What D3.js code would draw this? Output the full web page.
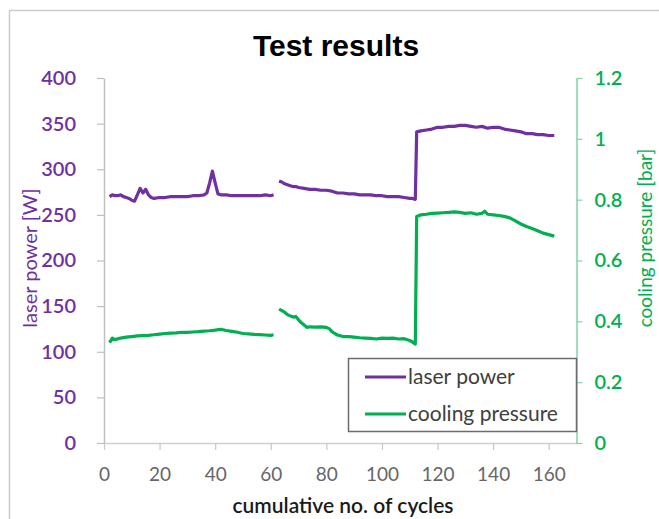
<!DOCTYPE html>
<html>
<head>
<meta charset="utf-8">
<script src="https://cdn.jsdelivr.net/npm/d3@7"></script>
<style>
  html, body { margin: 0; padding: 0; background: #fff; }
  svg { display: block; }
</style>
</head>
<body>
<svg id="chart" width="659" height="519"></svg>
<script>
// Laser power [W] per cycle; null marks the pause between runs
const powerCycles = [2,3,4,5,6,7,8,9,10,11,12,13,14,15,16,17,18,20,22,24,26,28,30,32,34,36,37,38,39,40,41,42,44,46,48,50,52,54,56,58,60,61,
  62,
  63,64,65,66,67,68,69,70,72,74,76,78,80,82,84,86,88,90,92,94,96,98,100,102,104,106,108,110,111,112,
  112.5,114,116,118,120,122,124,126,128,130,132,134,136,138,140,142,144,146,148,150,152,154,156,158,160,162];
const powerValues = [270,272,271,271,272,270,269,268,266,265,272,279,274,278,272,269,268,269,269,270,270,270,270,271,271,272,274,285,298,285,273,272,272,271,271,271,271,271,271,272,271,272,
  null,
  287,286,284,283,282,281,281,280,279,278,278,277,277,276,274,274,273,273,272,272,272,271,271,270,270,270,269,268,268,267,
  341,342,343,344,346,346,347,347,348,348,347,346,347,345,346,346,344,343,342,341,339,339,338,338,337,337];

// Cooling pressure [bar] per cycle
const pressureCycles = [2,3,4,6,8,10,12,14,16,18,20,22,24,26,28,30,32,34,36,38,40,42,44,46,48,50,52,54,56,58,60,61,
  62,
  63,64,65,66,67,68,69,70,71,72,73,74,76,78,80,81,82,83,84,86,88,90,92,94,96,98,100,102,104,106,108,110,111,112,
  112.5,114,116,118,120,122,124,126,128,130,132,134,136,137,138,140,142,144,146,148,150,152,154,156,158,160,162];
const pressureValues = [0.33,0.345,0.34,0.345,0.348,0.35,0.352,0.353,0.354,0.356,0.358,0.36,0.361,0.362,0.364,0.364,0.365,0.366,0.368,0.369,0.371,0.374,0.37,0.367,0.364,0.36,0.359,0.357,0.356,0.355,0.354,0.356,
  null,
  0.44,0.435,0.43,0.422,0.418,0.414,0.416,0.405,0.395,0.388,0.38,0.382,0.381,0.382,0.38,0.376,0.366,0.36,0.355,0.35,0.35,0.348,0.346,0.345,0.344,0.342,0.345,0.344,0.345,0.342,0.343,0.337,0.332,0.325,
  0.745,0.75,0.752,0.755,0.756,0.757,0.758,0.76,0.758,0.755,0.757,0.752,0.755,0.762,0.752,0.75,0.748,0.745,0.74,0.73,0.72,0.712,0.705,0.698,0.69,0.685,0.68];

const xTicks = [0,20,40,60,80,100,120,140,160];
const powerTicks = [0,50,100,150,200,250,300,350,400];
const pressureTicks = [0,0.2,0.4,0.6,0.8,1,1.2];
const seriesNames = ["laser power", "cooling pressure"];

const PURPLE = "#7030A0";
const GREEN = "#00B050";
const FONT = "Lato, 'Open Sans', sans-serif";

const svg = d3.select("#chart");

// dotted frame around the chart area
svg.append("rect")
  .attr("x", 9.5).attr("y", 10.5)
  .attr("width", 680).attr("height", 540)
  .attr("fill", "none")
  .attr("stroke", "#9a9a9a")
  .attr("stroke-width", 1.5)
  .attr("stroke-dasharray", "1,1");

const x = d3.scaleLinear().domain([0, 170]).range([104, 576.5]);
const yL = d3.scaleLinear().domain([0, 400]).range([443, 78]);
const yR = d3.scaleLinear().domain([0, 1.2]).range([443, 78]);

// title
svg.append("text")
  .attr("x", 336).attr("y", 56)
  .attr("text-anchor", "middle")
  .attr("font-family", "'Liberation Sans', Arial, sans-serif")
  .attr("font-weight", "bold")
  .attr("font-size", 30)
  .text("Test results");

// bottom axis
const xAxis = svg.append("g")
  .attr("transform", "translate(0,443)")
  .call(d3.axisBottom(x).tickValues(xTicks).tickSize(7).tickPadding(18).tickSizeOuter(0));
xAxis.select(".domain").attr("stroke", "#d0d0d0").attr("stroke-width", 1.5);
xAxis.selectAll(".tick line").attr("stroke", "#c8c8c8").attr("stroke-width", 1.2);
xAxis.selectAll("text").attr("fill", "#666").attr("font-family", FONT).attr("font-size", 19);

// left axis
const lAxis = svg.append("g")
  .attr("transform", "translate(104,0)")
  .call(d3.axisLeft(yL).tickValues(powerTicks).tickSize(7).tickPadding(21).tickSizeOuter(0));
lAxis.select(".domain").attr("stroke", "#c0c0c0").attr("stroke-width", 1.5);
lAxis.selectAll(".tick line").attr("stroke", "#c0c0c0").attr("stroke-width", 1.2);
lAxis.selectAll("text").attr("fill", PURPLE).attr("font-family", FONT).attr("font-size", 20).attr("font-weight", 600);

// right axis
const rAxis = svg.append("g")
  .attr("transform", "translate(576.5,0)")
  .call(d3.axisRight(yR).tickValues(pressureTicks).tickFormat(d3.format("~g")).tickSize(6).tickPadding(12).tickSizeOuter(0));
rAxis.select(".domain").attr("stroke", "#80d4a4").attr("stroke-width", 1.5);
rAxis.selectAll(".tick line").attr("stroke", "#80d4a4").attr("stroke-width", 1.2);
rAxis.selectAll("text").attr("fill", GREEN).attr("font-family", FONT).attr("font-size", 20).attr("font-weight", 600);

// axis titles
svg.append("text")
  .attr("transform", "translate(37,258) rotate(-90)")
  .attr("text-anchor", "middle")
  .attr("font-family", FONT).attr("font-size", 20)
  .attr("fill", PURPLE)
  .text("laser power [W]");

svg.append("text")
  .attr("transform", "translate(652,238) rotate(-90)")
  .attr("text-anchor", "middle")
  .attr("font-family", FONT).attr("font-size", 19)
  .attr("fill", GREEN)
  .text("cooling pressure [bar]");

svg.append("text")
  .attr("x", 343).attr("y", 513)
  .attr("text-anchor", "middle")
  .attr("font-family", FONT).attr("font-size", 21)
  .attr("font-weight", 600)
  .attr("fill", "#1a1a1a")
  .text("cumulative no. of cycles");

// series lines
const powerData = powerCycles.map((c, i) => ({ c, v: powerValues[i] }));
const pressureData = pressureCycles.map((c, i) => ({ c, v: pressureValues[i] }));

const powerLine = d3.line().defined(d => d.v !== null).x(d => x(d.c)).y(d => yL(d.v));
const pressureLine = d3.line().defined(d => d.v !== null).x(d => x(d.c)).y(d => yR(d.v));

svg.append("path")
  .datum(powerData)
  .attr("d", powerLine)
  .attr("fill", "none")
  .attr("stroke", PURPLE)
  .attr("stroke-width", 3.2)
  .attr("stroke-linejoin", "round");

svg.append("path")
  .datum(pressureData)
  .attr("d", pressureLine)
  .attr("fill", "none")
  .attr("stroke", GREEN)
  .attr("stroke-width", 3.2)
  .attr("stroke-linejoin", "round");

// legend
const legend = svg.append("g");
legend.append("rect")
  .attr("x", 348.5).attr("y", 358.5)
  .attr("width", 228).attr("height", 73)
  .attr("fill", "#fff")
  .attr("stroke", "#6b6b6b")
  .attr("stroke-width", 1.5);

const legendColors = [PURPLE, GREEN];
seriesNames.forEach((name, i) => {
  const yy = 377 + i * 37;
  legend.append("line")
    .attr("x1", 365).attr("x2", 406)
    .attr("y1", yy).attr("y2", yy)
    .attr("stroke", legendColors[i])
    .attr("stroke-width", 3);
  legend.append("text")
    .attr("x", 408).attr("y", yy + 7)
    .attr("font-family", FONT).attr("font-size", 21)
    .attr("fill", "#404040")
    .text(name);
});
</script>
</body>
</html>
